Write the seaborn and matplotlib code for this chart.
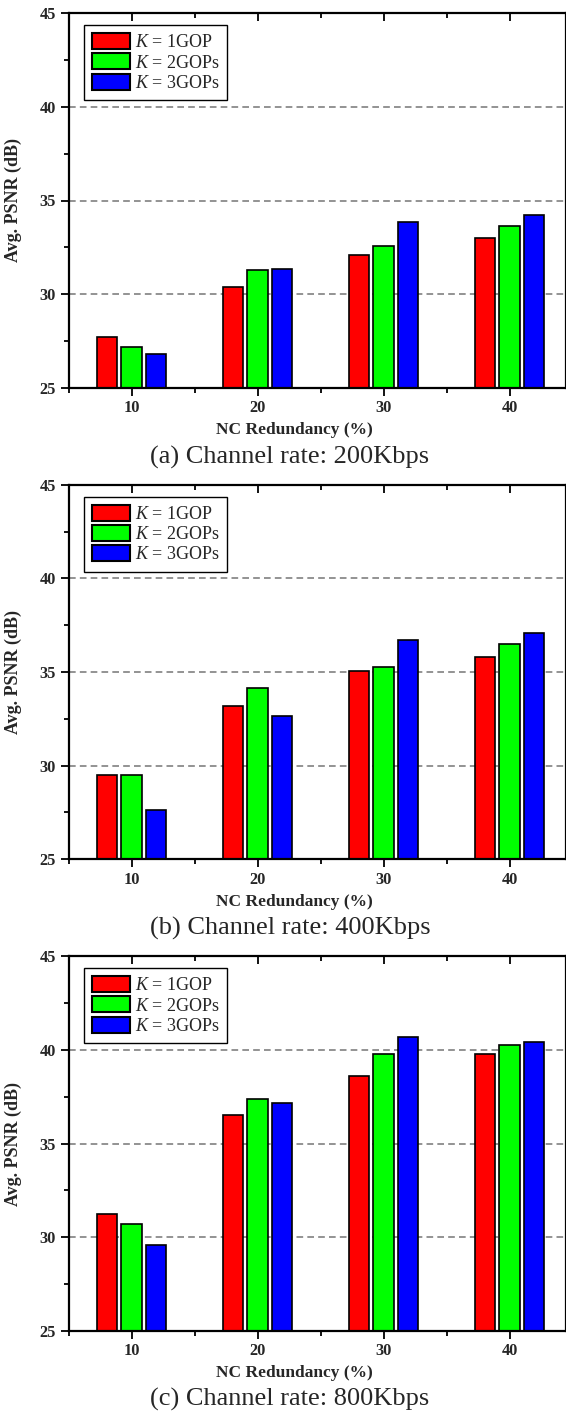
import numpy as np
import pandas as pd
import matplotlib
matplotlib.use("Agg")
import matplotlib.pyplot as plt
from matplotlib.ticker import MultipleLocator
import seaborn as sns

# ---- data ----
redundancy = [10, 20, 30, 40]
k_labels = ["$K$ = 1GOP", "$K$ = 2GOPs", "$K$ = 3GOPs"]
colors = ["#FF0000", "#00FF00", "#0000FF"]

psnr_200_k1 = [27.7, 30.36, 32.09, 33.01]
psnr_200_k2 = [27.2, 31.29, 32.57, 33.64]
psnr_200_k3 = [26.8, 31.34, 33.87, 34.23]

psnr_400_k1 = [29.5, 33.18, 35.06, 35.81]
psnr_400_k2 = [29.5, 34.14, 35.27, 36.52]
psnr_400_k3 = [27.63, 32.68, 36.73, 37.09]

psnr_800_k1 = [31.22, 36.52, 38.58, 39.77]
psnr_800_k2 = [30.69, 37.39, 39.80, 40.25]
psnr_800_k3 = [29.59, 37.18, 40.71, 40.41]

captions = ["(a) Channel rate: 200Kbps", "(b) Channel rate: 400Kbps", "(c) Channel rate: 800Kbps"]
panels = [
    [psnr_200_k1, psnr_200_k2, psnr_200_k3],
    [psnr_400_k1, psnr_400_k2, psnr_400_k3],
    [psnr_800_k1, psnr_800_k2, psnr_800_k3],
]

sns.set_style("ticks")
plt.rcParams["font.family"] = ["Liberation Serif", "DejaVu Serif"]
plt.rcParams["mathtext.fontset"] = "custom"
plt.rcParams["mathtext.it"] = "Liberation Serif:italic"
plt.rcParams["mathtext.rm"] = "Liberation Serif"

W, H = 566, 1417
fig = plt.figure(figsize=(W / 100, H / 100), dpi=100)

left_px = 68.6
ax_h_px = 374.4
bottoms_px = [387.7, 859.3, 1330.7]   # y (from top) of the y=25 axis line
caption_px = [457, 928, 1399]

for i, (series, cap) in enumerate(zip(panels, captions)):
    bot = 1 - bottoms_px[i] / H
    ax = fig.add_axes([left_px / W, bot, 1 - left_px / W, ax_h_px / H])
    rows = []
    for lab, vals in zip(k_labels, series):
        for r, v in zip(redundancy, vals):
            rows.append({"redundancy": r, "psnr": v, "K": lab})
    df = pd.DataFrame(rows)
    sns.barplot(data=df, x="redundancy", y="psnr", hue="K", native_scale=True,
                palette=dict(zip(k_labels, colors)), hue_order=k_labels,
                width=0.583, gap=0.16, edgecolor="black", linewidth=1.2,
                saturation=1, errorbar=None, ax=ax)
    ax.set_xlim(5, 5 + (W - left_px) / 12.6)
    ax.set_ylim(25, 45)
    ax.xaxis.set_major_locator(MultipleLocator(10))
    ax.xaxis.set_minor_locator(MultipleLocator(5))
    ax.yaxis.set_major_locator(MultipleLocator(5))
    ax.yaxis.set_minor_locator(MultipleLocator(2.5))
    ax.set_axisbelow(True)
    ax.yaxis.grid(True, which="major", color="#808080", linestyle=(0, (4, 2.5)), linewidth=1.2)
    ax.xaxis.grid(False)
    for s in ax.spines.values():
        s.set_linewidth(1.6)
        s.set_color("black")
    ax.tick_params(axis="both", which="major", direction="out", length=6, width=1.3,
                   labelsize=11.8, pad=3, color="black")
    ax.tick_params(axis="both", which="minor", direction="out", length=3.5, width=1.3, color="black")
    ax.tick_params(axis="x", which="both", top=True)
    # top ticks pointing inward
    for t in ax.xaxis.get_major_ticks() + ax.xaxis.get_minor_ticks():
        t.tick2line.set_marker(3)  # TICKDOWN
    for lab in ax.get_xticklabels() + ax.get_yticklabels():
        lab.set_fontweight("bold")
    ax.set_xlabel("NC Redundancy (%)", fontsize=12.5, fontweight="bold")
    ax.set_ylabel("Avg. PSNR (dB)", fontsize=13, fontweight="bold")
    ax.yaxis.set_label_coords(-(left_px - 21.7) / (W - left_px), 0.5)
    ax.xaxis.label.set_verticalalignment("center")
    ax.xaxis.set_label_coords((294 - left_px) / (W - left_px), -(430 - 387.7) / ax_h_px)

    handles, labels = ax.get_legend_handles_labels()
    if ax.get_legend() is not None:
        ax.get_legend().remove()
    leg = ax.legend(handles, labels, loc="upper left", bbox_to_anchor=(0.031, 0.969),
                    borderaxespad=0, fontsize=13, handlelength=2.1, handleheight=0.98,
                    labelspacing=0.12, handletextpad=0.25, borderpad=0.45,
                    frameon=True, fancybox=False, edgecolor="black", framealpha=1)
    leg.get_frame().set_linewidth(1.0)
    for p in leg.get_patches():
        p.set_edgecolor("black")
        p.set_linewidth(1.5)

    fig.text(290 / W, 1 - caption_px[i] / H, cap, ha="center", va="center", fontsize=19)

fig.savefig("out.png", dpi=100)
